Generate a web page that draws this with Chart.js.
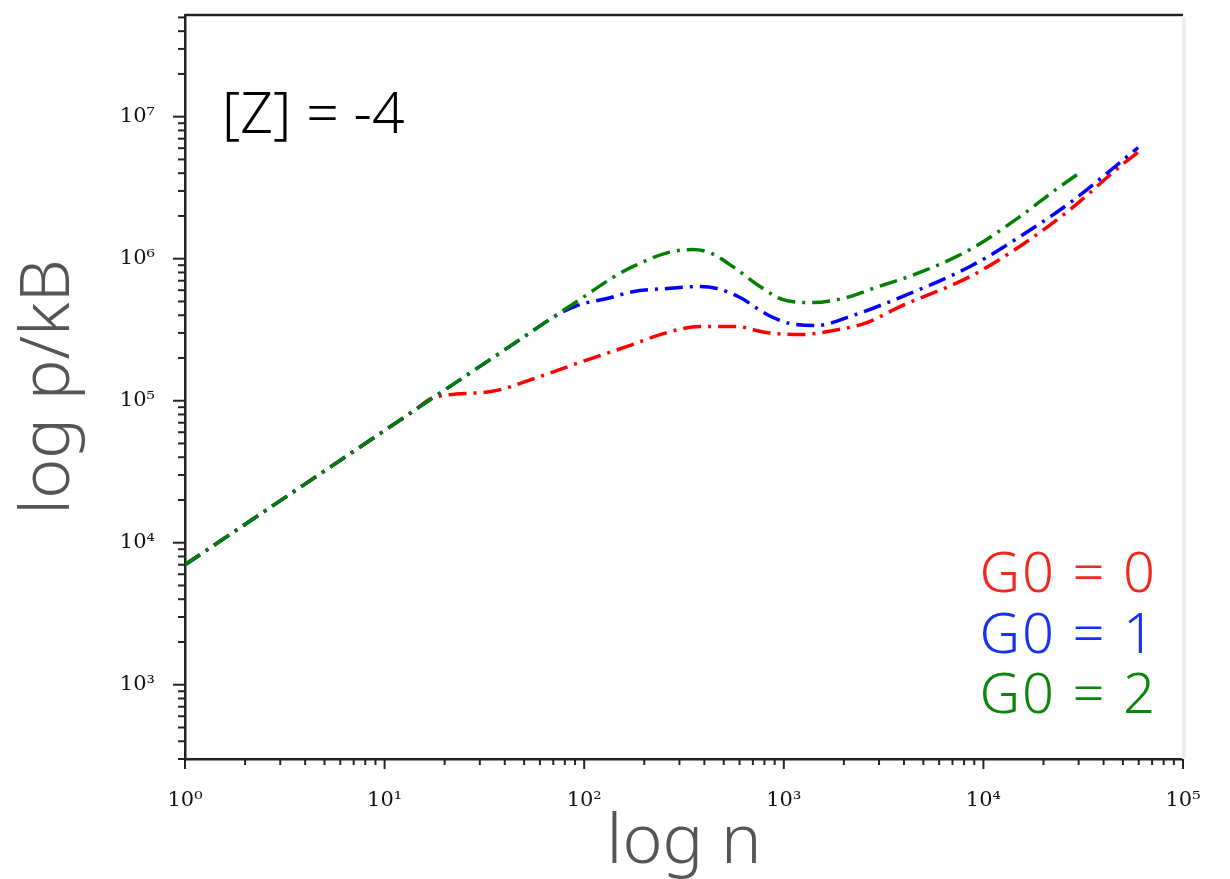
<!DOCTYPE html>
<html>
<head>
<meta charset="utf-8">
<script src="https://cdn.jsdelivr.net/npm/chart.js@4.4.1/dist/chart.umd.min.js"></script>
<style>
  html, body { margin: 0; padding: 0; background: #fff; }
  #contenedor { width: 1230px; height: 879px; }
</style>
</head>
<body>
<div id="contenedor"><canvas id="grafica"></canvas></div>
<script>
// Datos (n, p/kB) para cada G0
const nombresSeries = ['G0 = 0', 'G0 = 1', 'G0 = 2'];
const coloresSeries = ['#ff0000', '#0000ff', '#008000'];
const coloresTexto = ['#f0281e', '#1432f5', '#0a870a'];
const anotacion = '[Z] = -4';

const nG0_0 = [1, 10, 14, 17.5, 34, 60, 95, 164, 260, 380, 570, 820, 1200, 1770, 2610, 3820, 8570, 15200, 27200, 48300, 61000];
const pG0_0 = [7.0e3, 6.17e4, 8.48e4, 1.05e5, 1.16e5, 1.48e5, 1.86e5, 2.41e5, 3.02e5, 3.33e5, 3.33e5, 3.02e5, 2.92e5, 3.12e5, 3.55e5, 4.60e5, 7.48e5, 1.22e6, 2.22e6, 4.46e6, 5.77e6];

const nG0_1 = [1, 10, 17.5, 34, 55, 70, 92, 130, 175, 260, 380, 462, 604, 824, 1074, 1466, 2148, 3820, 8570, 15240, 27160, 48300, 59600];
const pG0_1 = [7.0e3, 6.17e4, 1.05e5, 1.96e5, 3.09e5, 3.88e5, 4.68e5, 5.24e5, 5.86e5, 6.17e5, 6.37e5, 6.17e5, 5.33e5, 4.05e5, 3.50e5, 3.39e5, 3.92e5, 5.33e5, 8.81e5, 1.43e6, 2.48e6, 4.75e6, 6.07e6];

const nG0_2 = [1, 10, 17.5, 34, 65, 92, 139, 175, 260, 351, 427, 556, 760, 991, 1400, 2148, 2704, 4808, 8570, 15240, 22340, 29440];
const pG0_2 = [7.0e3, 6.17e4, 1.05e5, 1.96e5, 3.62e5, 5.0e5, 7.36e5, 8.79e5, 1.10e6, 1.16e6, 1.10e6, 8.79e5, 6.37e5, 5.15e5, 4.91e5, 5.41e5, 6.07e5, 8.00e5, 1.16e6, 1.98e6, 2.97e6, 3.91e6];

// Ejes
const rangoX = [1, 1e5];
const rangoY = [300, 5.2e7];
const superindices = '⁰¹²³⁴⁵⁶⁷⁸⁹';

function esPotencia(v) {
  const l = Math.log10(v);
  return Math.abs(l - Math.round(l)) < 1e-9;
}

function etiquetaPotencia(v) {
  if (!esPotencia(v)) return '';
  const e = Math.round(Math.log10(v));
  return '10' + String(e).split('').map(d => superindices[+d]).join('');
}

function marcasLog(min, max) {
  const out = [];
  for (let e = Math.floor(Math.log10(min)); e <= Math.ceil(Math.log10(max)); e++) {
    for (let m = 1; m <= 9; m++) {
      const v = m * Math.pow(10, e);
      if (v >= min * 0.9999 && v <= max * 1.0001) out.push(v);
    }
  }
  return out;
}

function puntos(ns, ps) {
  return ns.map((n, i) => ({ x: n, y: ps[i] }));
}

const series = [puntos(nG0_0, pG0_0), puntos(nG0_1, pG0_1), puntos(nG0_2, pG0_2)];

// marco, marcas de los ejes y textos
const marcoYTextos = {
  id: 'marcoYTextos',
  afterDraw(chart) {
    const { ctx, chartArea: a, scales } = chart;
    ctx.save();
    ctx.strokeStyle = '#222';
    ctx.lineWidth = 2;
    scales.x.ticks.forEach(t => {
      const px = scales.x.getPixelForValue(t.value);
      const len = esPotencia(t.value) ? 10 : 6;
      ctx.beginPath(); ctx.moveTo(px, a.bottom); ctx.lineTo(px, a.bottom + len); ctx.stroke();
    });
    scales.y.ticks.forEach(t => {
      const py = scales.y.getPixelForValue(t.value);
      const len = esPotencia(t.value) ? 12 : 7;
      ctx.beginPath(); ctx.moveTo(a.left, py); ctx.lineTo(a.left - len, py); ctx.stroke();
    });

    // borde superior oscuro, derecho casi blanco
    ctx.lineWidth = 2.5;
    ctx.strokeStyle = '#222';
    ctx.beginPath(); ctx.moveTo(a.left, a.top); ctx.lineTo(a.right, a.top); ctx.stroke();
    ctx.lineWidth = 4;
    ctx.strokeStyle = '#eeeeee';
    ctx.beginPath(); ctx.moveTo(a.right + 1, a.top + 2); ctx.lineTo(a.right + 1, a.bottom); ctx.stroke();

    // anotación
    ctx.font = '300 57px "Noto Sans"';
    ctx.fillStyle = '#000';
    ctx.textAlign = 'left';
    ctx.textBaseline = 'alphabetic';
    ctx.fillText(anotacion, a.left + 37, a.top + 118);

    // leyenda
    ctx.font = '300 56px "Noto Sans"';
    ctx.textAlign = 'right';
    ctx.letterSpacing = '2px';
    nombresSeries.forEach((nombre, i) => {
      ctx.fillStyle = coloresTexto[i];
      ctx.fillText(nombre, a.right - 26, a.bottom - 167 + i * 60.5);
    });
    ctx.restore();
  }
};

new Chart(document.getElementById('grafica'), {
  type: 'line',
  data: {
    datasets: series.map((d, i) => ({
      label: nombresSeries[i],
      data: d,
      borderColor: coloresSeries[i],
      borderWidth: 3.5,
      borderDash: [18, 7, 3, 7],
      pointRadius: 0,
      cubicInterpolationMode: 'monotone',
      fill: false,
      order: 3 - i
    }))
  },
  options: {
    animation: false,
    responsive: true,
    maintainAspectRatio: false,
    layout: { padding: { top: 15, right: 47, left: 0, bottom: 0 } },
    plugins: { legend: { display: false }, tooltip: { enabled: false } },
    scales: {
      x: {
        type: 'logarithmic',
        min: rangoX[0],
        max: rangoX[1],
        grid: { display: false },
        border: { display: true, color: '#222', width: 2.5 },
        afterBuildTicks: s => { s.ticks = marcasLog(s.min, s.max).map(v => ({ value: v })); },
        afterFit: s => { s.height = 120; s.paddingLeft = 0; s.paddingRight = 0; },
        ticks: {
          autoSkip: false,
          maxRotation: 0,
          padding: 21,
          color: '#111',
          font: { family: '"DejaVu Serif"', size: 21 },
          callback: v => etiquetaPotencia(v)
        },
        title: {
          display: true,
          text: 'log n',
          color: '#555',
          font: { family: '"Noto Sans"', size: 68, weight: 300, lineHeight: 1 },
          padding: { top: 0, bottom: 1 }
        }
      },
      y: {
        type: 'logarithmic',
        min: rangoY[0],
        max: rangoY[1],
        grid: { display: false },
        border: { display: true, color: '#222', width: 2.5 },
        afterBuildTicks: s => { s.ticks = marcasLog(s.min, s.max).map(v => ({ value: v })); },
        afterFit: s => { s.width = 185; s.paddingTop = 0; s.paddingBottom = 0; },
        ticks: {
          autoSkip: false,
          padding: 22,
          color: '#111',
          font: { family: '"DejaVu Serif"', size: 21 },
          callback: v => etiquetaPotencia(v)
        },
        title: {
          display: true,
          text: 'log p/kB',
          color: '#555',
          font: { family: '"Noto Sans"', size: 68, weight: 300, lineHeight: 1 },
          padding: { top: 16, bottom: 0 }
        }
      }
    }
  },
  plugins: [marcoYTextos]
});
</script>
</body>
</html>
